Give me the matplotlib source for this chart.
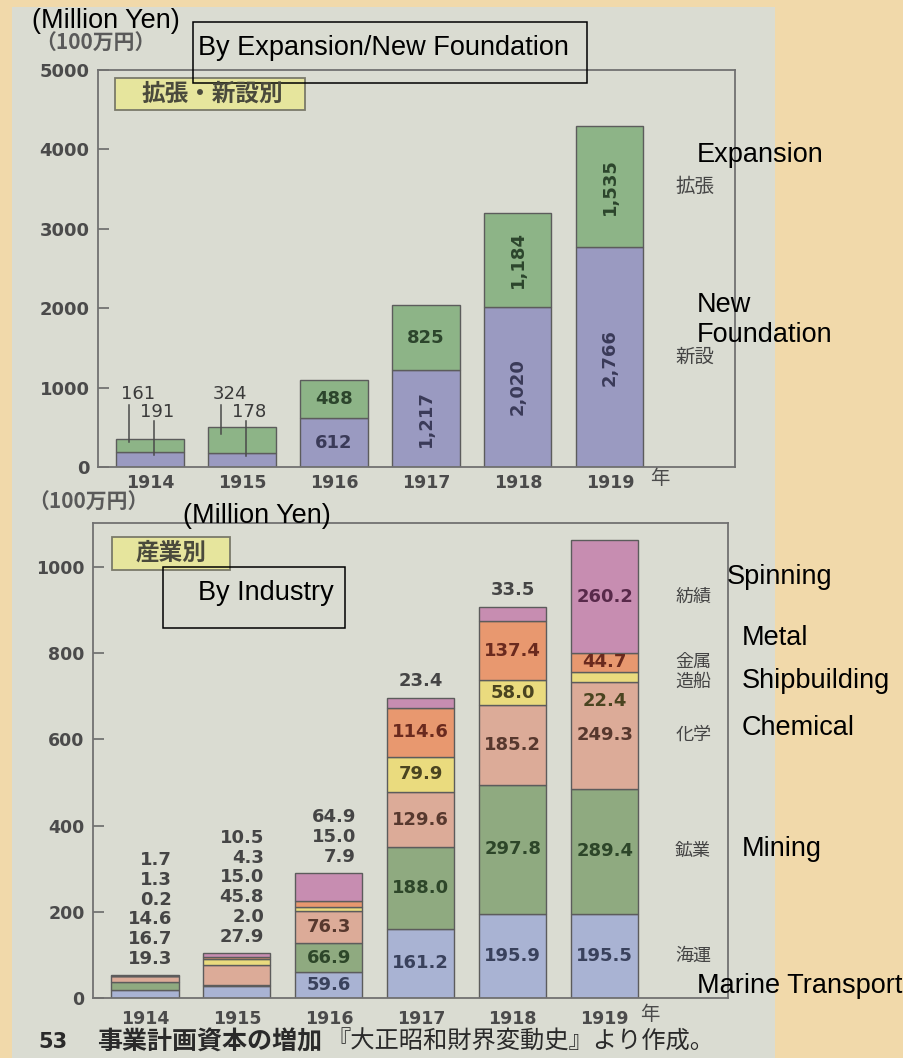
import matplotlib.pyplot as plt
from matplotlib.patches import Rectangle
from matplotlib import transforms

plt.rcParams['font.family'] = ['DejaVu Sans']

W, H = 904, 1058
JP = ['Noto Sans CJK JP', 'DejaVu Sans']
EN = ['Liberation Sans', 'DejaVu Sans']

years = ['1914', '1915', '1916', '1917', '1918', '1919']

# capital by expansion / new foundation (100万円)
new_foundation = [191, 178, 612, 1217, 2020, 2766]
expansion = [161, 324, 488, 825, 1184, 1535]

# capital by industry (100万円), bottom of the stack first
marine = [19.3, 27.9, 59.6, 161.2, 195.9, 195.5]
mining = [16.7, 2.0, 66.9, 188.0, 297.8, 289.4]
chemical = [14.6, 45.8, 76.3, 129.6, 185.2, 249.3]
shipbuilding = [0.2, 15.0, 7.9, 79.9, 58.0, 22.4]
metal = [1.3, 4.3, 15.0, 114.6, 137.4, 44.7]
spinning = [1.7, 10.5, 64.9, 23.4, 33.5, 260.2]

industries_jp = ['海運', '鉱業', '化学', '造船', '金属', '紡績']
# how many segments of each bar carry their number inside
n_inside = [0, 0, 3, 5, 5, 6]

ind_colors = ['#A9B3D3', '#8FAA80', '#DCAB98', '#EADB7E', '#E8986F', '#C78DB1']
ind_text = ['#39415C', '#2D4629', '#57382E', '#4A4420', '#6A2A1E', '#58294A']


def fx(x):
    return x / W


def fy(y):
    return 1 - y / H


fig = plt.figure(figsize=(W / 100, H / 100), dpi=100, facecolor='#F1D9AA')
fig.patches.append(Rectangle((fx(12), 0), fx(763), 1 - fy(1051), transform=fig.transFigure,
                             facecolor='#DADCD2', edgecolor='none', zorder=-5))

ax1 = fig.add_axes([fx(98), fy(467), fx(637), 397 / H], facecolor='none')
ax2 = fig.add_axes([fx(93), fy(998), fx(635), 475 / H], facecolor='none')

for ax in (ax1, ax2):
    for s in ax.spines.values():
        s.set_color('#717171')
        s.set_linewidth(1.3)
    ax.tick_params(axis='y', direction='in', length=8, width=1.2, color='#6a6a6a',
                   labelsize=13, labelcolor='#4b4b4b')
    ax.tick_params(axis='x', length=0, labelsize=12.5, labelcolor='#4b4b4b')

x = list(range(6))
bw = 0.73
edge = dict(edgecolor='#5c5c5c', linewidth=1.0)

# ---- top: expansion / new foundation ----
ax1.bar(x, new_foundation, width=bw, color='#9A9AC1', **edge)
ax1.bar(x, expansion, width=bw, bottom=new_foundation, color='#8DB487', **edge)
ax1.set_xlim(-0.565, 6.36)
ax1.set_ylim(0, 5000)
ax1.set_yticks([0, 1000, 2000, 3000, 4000, 5000],
               labels=['0', '1000', '2000', '3000', '4000', '5000'], fontweight='bold')
ax1.tick_params(axis='y', pad=6)
ax1.set_xticks(x, labels=years, fontweight='bold')
ax1.tick_params(axis='x', pad=5)

num = dict(fontsize=13, fontweight='bold', ha='center', va='center')
for i in range(2, 6):
    n, e = new_foundation[i], expansion[i]
    ax1.text(i, n / 2, f'{n:,}', rotation=90 if n >= 1000 else 0, color='#3A3A58', **num)
    ax1.text(i, n + e / 2, f'{e:,}', rotation=90 if e >= 1000 else 0, color='#2C452C', **num)

# small bars get their numbers above with leader lines
for i in (0, 1):
    n, e = new_foundation[i], expansion[i]
    ax1.text(i - 0.13, 915, f'{e}', fontsize=13, ha='center', va='center', color='#3a3a3a')
    ax1.plot([i - 0.23, i - 0.23], [n + e * 0.75, 780], color='#4a4a4a', lw=1.1)
    ax1.text(i + 0.08, 693, f'{n}', fontsize=13, ha='center', va='center', color='#3a3a3a')
    ax1.plot([i + 0.04, i + 0.04], [n * 0.8, 575], color='#4a4a4a', lw=1.1)

side1 = transforms.blended_transform_factory(ax1.transAxes, ax1.transData)
ax1.text(0.937, new_foundation[-1] + expansion[-1] / 2, '拡張', transform=side1, family=JP,
         fontsize=14, ha='center', va='center', color='#444444')
ax1.text(0.937, new_foundation[-1] / 2, '新設', transform=side1, family=JP,
         fontsize=14, ha='center', va='center', color='#444444')

# ---- bottom: by industry ----
series = [marine, mining, chemical, shipbuilding, metal, spinning]
bottom = [0.0] * 6
bottoms = []
for vals, col in zip(series, ind_colors):
    ax2.bar(x, vals, width=bw, bottom=bottom, color=col, **edge)
    bottoms.append(list(bottom))
    bottom = [b + v for b, v in zip(bottom, vals)]
totals = bottom

ax2.set_xlim(-0.565, 6.34)
ax2.set_ylim(0, 1102)
ax2.set_yticks([0, 200, 400, 600, 800, 1000],
               labels=['0', '200', '400', '600', '800', '1000'], fontweight='bold')
ax2.tick_params(axis='y', pad=6, labelsize=12.5)
ax2.set_xticks(x, labels=years, fontweight='bold')
ax2.tick_params(axis='x', pad=9)

for i in range(6):
    k_in = n_inside[i]
    for k in range(k_in):
        v = series[k][i]
        y = bottoms[k][i] + v / 2
        if v < 30:
            y = bottoms[k][i] - 45
        ax2.text(i, y, f'{v:.1f}', color=ind_text[k], **num)
    above = list(range(k_in, 6))
    if len(above) == 1:
        k = above[0]
        ax2.annotate(f'{series[k][i]:.1f}', xy=(i, totals[i]), xytext=(0, 12),
                     textcoords='offset points', ha='center', va='center',
                     fontsize=13, fontweight='bold', color='#454545')
    else:
        for j, k in enumerate(above):
            ax2.annotate(f'{series[k][i]:.1f}', xy=(i, totals[i]), xytext=(19.5, 11.5 + 14.2 * j),
                         textcoords='offset points', ha='right', va='center',
                         fontsize=13, fontweight='bold', color='#454545')

side2 = transforms.blended_transform_factory(ax2.transAxes, ax2.transData)
for k, name in enumerate(industries_jp):
    v = series[k][-1]
    y = bottoms[k][-1] + (v / 2 if v >= 30 else 0)
    ax2.text(0.945, y, name, transform=side2, family=JP,
             fontsize=13, ha='center', va='center', color='#444444')

# ---- headings, units and caption ----
fig.patches.append(Rectangle((fx(115), fy(110)), fx(190), 32 / H, transform=fig.transFigure,
                             facecolor='#E6E59D', edgecolor='#7a7a6a', lw=1.3))
fig.text(fx(212), fy(94), '拡張・新設別', family=JP, fontsize=17, fontweight='bold',
         ha='center', va='center', color='#4a4a3c')
fig.patches.append(Rectangle((fx(112), fy(570)), fx(118), 33 / H, transform=fig.transFigure,
                             facecolor='#E6E59D', edgecolor='#7a7a6a', lw=1.3))
fig.text(fx(171), fy(553), '産業別', family=JP, fontsize=17, fontweight='bold',
         ha='center', va='center', color='#4a4a3c')

fig.text(fx(95), fy(43), '（100万円）', family=JP, fontsize=15, fontweight='bold',
         ha='center', va='center', color='#5a5a5a')
fig.text(fx(88), fy(502), '（100万円）', family=JP, fontsize=15, fontweight='bold',
         ha='center', va='center', color='#5a5a5a')
fig.text(fx(660), fy(478), '年', family=JP, fontsize=14, ha='center', va='center', color='#4b4b4b')
fig.text(fx(650), fy(1014), '年', family=JP, fontsize=14, ha='center', va='center', color='#4b4b4b')

fig.text(fx(53), fy(1042), '53', fontsize=15, fontweight='bold', ha='center', va='center',
         color='#2a2a2a')
fig.text(fx(97), fy(1042), '事業計画資本の増加', family=JP, fontsize=18, fontweight='bold',
         ha='left', va='center', color='#2a2a2a')
fig.text(fx(326), fy(1042), '『大正昭和財界変動史』より作成。', family=JP, fontsize=17.5,
         ha='left', va='center', color='#2a2a2a')

# ---- English overlay ----
en = dict(family=EN, fontsize=19.5, color='black', ha='left', va='baseline')
fig.text(fx(32), fy(28), '(Million Yen)', **en)
fig.text(fx(183), fy(523), '(Million Yen)', **en)
fig.patches.append(Rectangle((fx(193), fy(83)), fx(394), 61 / H, transform=fig.transFigure,
                             facecolor='none', edgecolor='black', lw=1.1))
fig.text(fx(198), fy(55), 'By Expansion/New Foundation', **en)
fig.patches.append(Rectangle((fx(163), fy(628)), fx(182), 61 / H, transform=fig.transFigure,
                             facecolor='none', edgecolor='black', lw=1.1))
fig.text(fx(198), fy(600), 'By Industry', **en)

fig.text(fx(697), fy(162), 'Expansion', **en)
fig.text(fx(697), fy(312), 'New', **en)
fig.text(fx(697), fy(342), 'Foundation', **en)
fig.text(fx(727), fy(584), 'Spinning', **en)
fig.text(fx(742), fy(645), 'Metal', **en)
fig.text(fx(742), fy(688), 'Shipbuilding', **en)
fig.text(fx(742), fy(735), 'Chemical', **en)
fig.text(fx(742), fy(856), 'Mining', **en)
fig.text(fx(697), fy(993), 'Marine Transport', **en)

fig.savefig('out.png', dpi=100, facecolor=fig.get_facecolor())
